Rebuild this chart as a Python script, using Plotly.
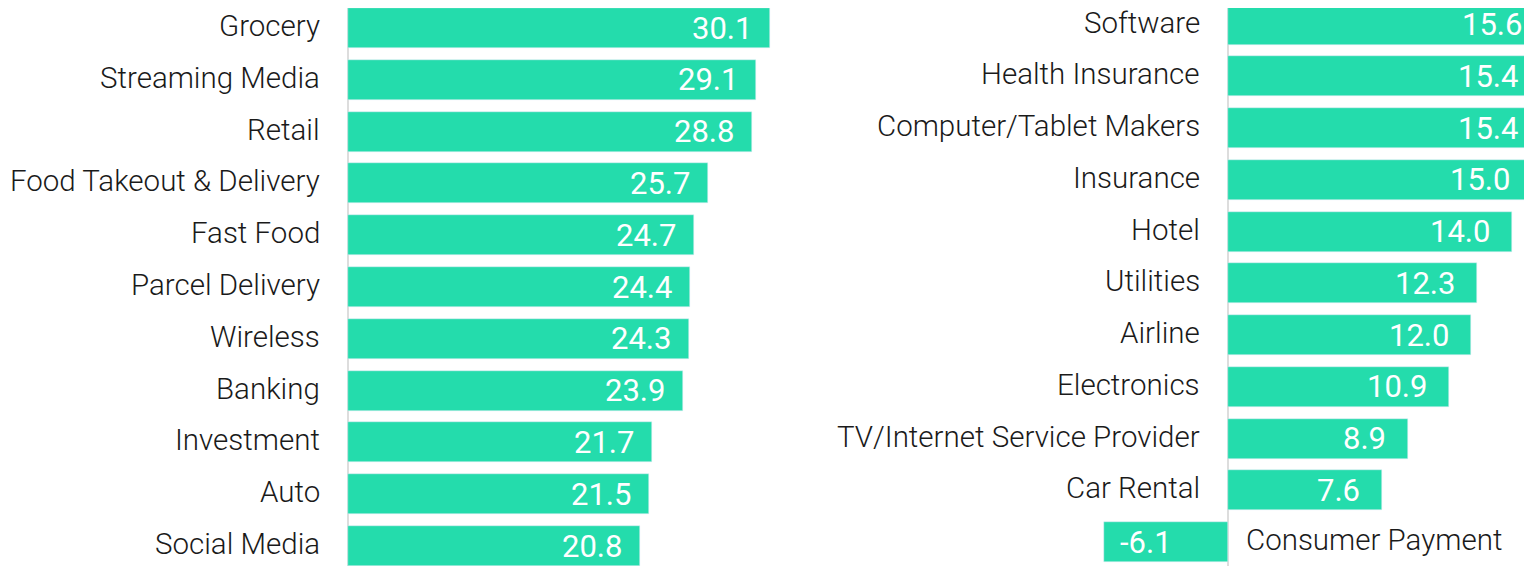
import plotly.graph_objects as go

left_cats = ["Grocery", "Streaming Media", "Retail", "Food Takeout & Delivery", "Fast Food",
             "Parcel Delivery", "Wireless", "Banking", "Investment", "Auto", "Social Media"]
left_vals = [30.1, 29.1, 28.8, 25.7, 24.7, 24.4, 24.3, 23.9, 21.7, 21.5, 20.8]

right_cats = ["Software", "Health Insurance", "Computer/Tablet Makers", "Insurance", "Hotel",
              "Utilities", "Airline", "Electronics", "TV/Internet Service Provider", "Car Rental",
              "Consumer Payment"]
right_vals = [15.6, 15.4, 15.4, 15.0, 14.0, 12.3, 12.0, 10.9, 8.9, 7.6, -6.1]

BAR = "#24DCAC"
W, H = 1560, 558
LABEL_FONT = dict(family="Roboto", size=29.5, color="#1a1a1a", weight=300)
VALUE_FONT = dict(family="Roboto", size=31, color="white")

fig = go.Figure()
fig.add_trace(go.Bar(y=left_cats, x=left_vals, orientation="h", marker_color=BAR,
                     width=0.772, xaxis="x", yaxis="y", hoverinfo="skip", textposition="none"))
fig.add_trace(go.Bar(y=right_cats, x=right_vals, orientation="h", marker_color=BAR,
                     width=0.773, xaxis="x2", yaxis="y2", hoverinfo="skip", textposition="none"))

ann = []
for c, v in zip(left_cats, left_vals):
    ann.append(dict(x=0, y=c, xref="x", yref="y", text=c, showarrow=False, xanchor="right",
                    yanchor="middle", xshift=-26, yshift=2, font=LABEL_FONT))
    ann.append(dict(x=v, y=c, xref="x", yref="y", text=f"{v:.1f}", showarrow=False, xanchor="right",
                    yanchor="middle", xshift=-16, font=VALUE_FONT))
for c, v in zip(right_cats, right_vals):
    if v >= 0:
        ann.append(dict(x=0, y=c, xref="x2", yref="y2", text=c, showarrow=False, xanchor="right",
                        yanchor="middle", xshift=-26, yshift=2, font=LABEL_FONT))
        ann.append(dict(x=v, y=c, xref="x2", yref="y2", text=f"{v:.1f}", showarrow=False,
                        xanchor="right", yanchor="middle", xshift=-20, font=VALUE_FONT))
    else:
        ann.append(dict(x=0, y=c, xref="x2", yref="y2", text=c, showarrow=False, xanchor="left",
                        yanchor="middle", xshift=16, yshift=2, font=LABEL_FONT))
        ann.append(dict(x=v, y=c, xref="x2", yref="y2", text=f"{v:.1f}", showarrow=False,
                        xanchor="left", yanchor="middle", xshift=14, font=VALUE_FONT))

shapes = [
    dict(type="line", xref="x", yref="paper", x0=0, x1=0, y0=0, y1=1,
         line=dict(color="#dddddd", width=2), layer="below"),
    dict(type="line", xref="x2", yref="paper", x0=0, x1=0, y0=0, y1=1,
         line=dict(color="#dddddd", width=2), layer="below"),
]

# page body has an 8px margin: figure px = screen px - 8
LZ, LS = 340, 14.02      # left zero (fig px), px per unit
RZ, RS = 1220, 20.27     # right zero (fig px), px per unit
L0, L1 = 339, 800
R0 = 1082
fig.update_layout(
    width=W, height=H, margin=dict(l=0, r=0, t=0, b=0),
    paper_bgcolor="white", plot_bgcolor="white", showlegend=False,
    bargap=0,
    xaxis=dict(domain=[L0 / W, L1 / W], range=[(L0 - LZ) / LS, (L1 - LZ) / LS],
               visible=False, fixedrange=True),
    yaxis=dict(range=[(H - 20) / 51.8, -20 / 51.8], visible=False, fixedrange=True, type="category",
               categoryorder="array", categoryarray=left_cats),
    xaxis2=dict(domain=[R0 / W, 1], range=[(R0 - RZ) / RS, (W - RZ) / RS], visible=False, fixedrange=True),
    yaxis2=dict(range=[(H - 16.5) / 51.75, -16.5 / 51.75], visible=False, fixedrange=True, type="category",
                anchor="x2", categoryorder="array", categoryarray=right_cats),
    annotations=ann, shapes=shapes,
)
fig.write_html("out.html")
